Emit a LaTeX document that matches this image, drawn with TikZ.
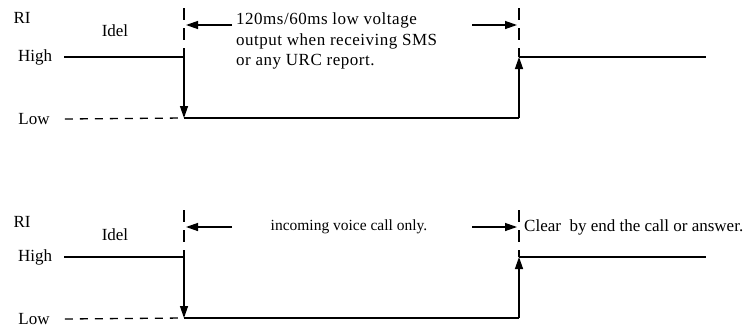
\documentclass[tikz,border=0pt]{standalone}
\usepackage{fontspec}
\setmainfont{Liberation Serif}
\usetikzlibrary{arrows.meta}

\tikzset{
  sig/.style={line width=1.3pt},
  sigtip/.style={line width=1.3pt, -{Triangle[length=12pt,width=8pt]}},
  guide/.style={line width=1.3pt, dash pattern=on 8pt off 7pt},
  vguide/.style={line width=1.3pt, dash pattern=on 12pt off 8pt},
  lbl/.style={font=\fontsize{17}{20.5}\selectfont, inner sep=0pt},
}

\begin{document}
\begin{tikzpicture}[x=1pt, y=-1pt]
  \useasboundingbox (0,0) rectangle (752,327);

  % Upper waveform: SMS / URC
  \node[lbl] (riA) at (22,18) {RI};
  \node[lbl] (idelA) at (115,31) {Idel};
  \node[lbl] (highA) at (35,57) {High};
  \node[lbl] (lowA) at (34,119) {Low};
  \coordinate (fallA) at (184,57);
  \coordinate (fallLowA) at (184,118);
  \coordinate (riseLowA) at (519,118);
  \coordinate (riseA) at (519,57);

  \draw[sig] (highA.east) ++(12,0) -- (fallA);
  \draw[sigtip] (fallA) -- (fallLowA);
  \draw[sig] (fallLowA) -- (riseLowA);
  \draw[sigtip] (riseLowA) -- (riseA);
  \draw[sig] (riseA) -- (706,57);
  \draw[guide] (lowA.east) ++(15,0) -- (fallLowA);

  \draw[vguide] (184,8) -- (fallA);
  \draw[vguide] (519,8) -- (riseA);
  \node[lbl, anchor=north west, align=left, font=\fontsize{17}{20.5}\selectfont\addfontfeatures{LetterSpace=3}]
    (noteA) at (236,13)
    {120ms/60ms low voltage\\output when receiving SMS\\or any URC report.};
  \draw[sigtip] (noteA.north west) ++(-4,12) -- (186,25);
  \draw[sigtip] (472,25) -- (517,25);

  % Lower waveform: voice call
  \begin{scope}[yshift=-200pt]
    \node[lbl] (riB) at (22,22) {RI};
    \node[lbl] (idelB) at (115,35) {Idel};
    \node[lbl] (highB) at (35,57) {High};
    \node[lbl] (lowB) at (34,119) {Low};
    \coordinate (fallB) at (184,57);
    \coordinate (fallLowB) at (184,118);
    \coordinate (riseLowB) at (519,118);
    \coordinate (riseB) at (519,57);

    \draw[sig] (highB.east) ++(12,0) -- (fallB);
    \draw[sigtip] (fallB) -- (fallLowB);
    \draw[sig] (fallLowB) -- (riseLowB);
    \draw[sigtip] (riseLowB) -- (riseB);
    \draw[sig] (riseB) -- (706,57);
    \draw[guide] (lowB.east) ++(15,0) -- (fallLowB);

    \draw[vguide] (184,10) -- (fallB);
    \draw[vguide] (519,10) -- (riseB);
    \node[lbl, font=\fontsize{15.5}{18}\selectfont] (noteB) at (349,27) {incoming voice call only.};
    \node[lbl, anchor=west] (clearB) at (524,27) {Clear\ \ by end the call or answer.};
    \draw[sigtip] (232,27) -- (186,27);
    \draw[sigtip] (472,27) -- (517,27);
  \end{scope}
\end{tikzpicture}
\end{document}
